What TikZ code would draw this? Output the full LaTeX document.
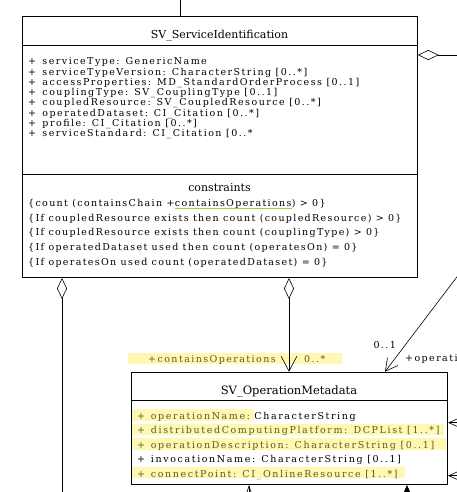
\documentclass[tikz,border=0pt]{standalone}
\usepackage{fontspec}
\setmainfont{DejaVu Serif}
\newfontfamily\umlattr[LetterSpace=15.5]{DejaVu Serif}
\newfontfamily\umlcons[LetterSpace=14]{DejaVu Serif}
\newfontfamily\umlop[LetterSpace=17]{DejaVu Serif}
\newfontfamily\umlrole[LetterSpace=15]{DejaVu Serif}
\newfontfamily\umlhead{DejaVu Serif}
\usetikzlibrary{positioning,arrows.meta,calc,backgrounds}

\definecolor{hlyellow}{HTML}{FFF8B4}
\definecolor{olivetext}{HTML}{5E5B1C}
\definecolor{spellgreen}{HTML}{9CD04A}

\begin{document}
\begin{tikzpicture}[x=1pt, y=-1pt,
  font=\umlattr\fontsize{9.5}{11}\selectfont,
  cls/.style={draw, line width=0.8pt, inner sep=0pt, anchor=north west},
  sep/.style={line width=0.8pt},
  ttl/.style={anchor=base, inner sep=0pt, font=\umlhead\fontsize{11}{13}\selectfont},
  attr/.style={anchor=base west, inner sep=0pt, text height=10pt, text depth=1pt},
  cons/.style={attr, font=\umlcons\fontsize{9.5}{11}\selectfont},
  oper/.style={attr, font=\umlop\fontsize{9.5}{11}\selectfont},
  hl/.style={fill=hlyellow, draw=none},
  assoc/.style={line width=0.6pt},
  diam/.style={assoc, {Diamond[open, length=21pt, width=10pt]}-},
  lbl/.style={anchor=base west, inner sep=0pt, text height=9pt, text depth=1.5pt,
    font=\umlrole\fontsize{9.5}{11}\selectfont}
]
\useasboundingbox (0,0) rectangle (457,492);
\clip (0,0) rectangle (457,492);

% ---- SV_ServiceIdentification ----
\node[cls, minimum width=395pt, minimum height=261.5pt] (sid) at (22,15.7) {};
\draw[sep] (sid.west |- 0,45) -- (sid.east |- 0,45);
\draw[sep] (sid.west |- 0,174) -- (sid.east |- 0,174);
\node[ttl] (sid-name) at (219.5,38.5) {SV\_ServiceIdentification};
\node[attr] (sa1) at (28,65)    {\makebox[14.3pt][l]{+}serviceType: GenericName};
\node[attr] (sa2) at (28,75.3)  {\makebox[14.3pt][l]{+}serviceTypeVersion: CharacterString [0..*]};
\node[attr] (sa3) at (28,85.5)  {\makebox[14.3pt][l]{+}accessProperties: MD\_StandardOrderProcess [0..1]};
\node[attr] (sa4) at (28,95.8)  {\makebox[14.3pt][l]{+}couplingType: SV\_CouplingType [0..1]};
\node[attr] (sa5) at (28,106)   {\makebox[14.3pt][l]{+}coupledResource: SV\_CoupledResource [0..*]};
\node[attr] (sa6) at (28,116.3) {\makebox[14.3pt][l]{+}operatedDataset: CI\_Citation [0..*]};
\node[attr] (sa7) at (28,126.5) {\makebox[14.3pt][l]{+}profile: CI\_Citation [0..*]};
\node[attr] (sa8) at (28,136.8) {\makebox[14.3pt][l]{+}serviceStandard: CI\_Citation [0..*};

% ---- constraints ----
\node[ttl] (sid-cons) at (219.5,191.7) {constraints};
\node[cons] (sc1a) at (28,206.7) {\{count (containsChain + };
\node[cons, base right=0pt of sc1a] (sc1b) {containsOperations};
\node[cons, base right=0pt of sc1b] (sc1c) {) > 0\}};
\draw[spellgreen, line width=1pt] ([yshift=-1.8pt]sc1b.base west) -- ([yshift=-1.8pt]sc1b.base east);
\node[cons] (sc2) at (28,221.3) {\{If coupledResource exists then count (coupledResource) > 0\}};
\node[cons] (sc3) at (28,235.9) {\{If coupledResource exists then count (couplingType) > 0\}};
\node[cons] (sc4) at (28,250.5) {\{If operatedDataset used then count (operatesOn) = 0\}};
\node[cons] (sc5) at (28,265.1) {\{If operatesOn used count (operatedDataset) = 0\}};

% ---- SV_OperationMetadata ----
\node[cls, minimum width=316.6pt, minimum height=112.6pt] (som) at (130.7,371.7) {};
\draw[sep] (som.west |- 0,400.7) -- (som.east |- 0,400.7);
\node[ttl, font=\umlhead\fontsize{11.5}{13}\selectfont] (som-name) at (289,394) {SV\_OperationMetadata};
\node[oper, olivetext] (om1) at (137,419.5) {\makebox[13.7pt][l]{+}operationName:\rule{4pt}{0pt}};
\node[oper, base right=0pt of om1] (om1t) {CharacterString};
\node[oper, olivetext] (om2) at (137,433.9) {\makebox[13.7pt][l]{+}distributedComputingPlatform: DCPList [1..*]};
\node[oper, olivetext] (om3) at (137,448.3) {\makebox[13.7pt][l]{+}operationDescription: CharacterString [0..1]};
\node[oper] (om4) at (137,462.7) {\makebox[13.7pt][l]{+}invocationName: CharacterString [0..1]};
\node[oper, olivetext] (om5) at (137,477.1) {\makebox[13.7pt][l]{+}connectPoint: CI\_OnlineResource [1..*]};

% ---- role labels ----
\node[lbl, olivetext] (lco) at (148,362) {+containsOperations};
\node[lbl, olivetext] (lcm) at (304,362) {0..*};
\node[lbl] (lom) at (373.3,348) {0..1};
\node[lbl] (lop) at (405,361.7) {+operati};

% ---- highlights ----
\begin{scope}[on background layer]
\fill[hl] (som.west |- om1.north) rectangle (om1.south east);
\fill[hl] (som.west |- om2.north) rectangle ([xshift=4pt]om2.south east);
\fill[hl] (som.west |- om3.north) rectangle ([xshift=12pt]om3.south east);
\fill[hl] (som.west |- om5.north) rectangle ([xshift=7pt]om5.south east);
\fill[hl] ([xshift=-20pt]lco.north west) rectangle ([xshift=16pt]lcm.south east);
\end{scope}

% ---- free ends ----
\coordinate (up) at (180,0);
\coordinate (right) at (457,55);
\coordinate (down) at (62,492);
\coordinate (coupled) at (472,257);
\coordinate (dcp) at (457,422.7);
\coordinate (online) at (457,475.7);
\coordinate (below1) at (249,500);
\coordinate (below2) at (407,500);

% ---- connectors ----
\draw[assoc] (up) -- (sid.north -| up);
\draw[diam] (sid.east |- right) -- (right);
\draw[diam] (sid.south -| down) -- (down);
\draw[assoc, {Diamond[open, length=21pt, width=10pt]}-{Straight Barb[length=15pt, width=16pt]}]
  (sid.south -| 289,0) -- (som.north -| 289,0);
\draw[assoc, -{Straight Barb[length=12pt, width=13pt]}] (coupled) -- (som.north -| 385,0);
\draw[assoc, -{Straight Barb[length=10pt, width=9pt]}] (dcp) -- (som.east |- dcp);
\draw[assoc, -{Straight Barb[length=10pt, width=9pt]}] (online) -- (som.east |- online);
\draw[assoc, -{Straight Barb[length=15pt, width=10pt]}] (below1) -- (som.south -| below1);
\draw[assoc, -{Triangle[length=9pt, width=8pt]}] (below2) -- (som.south -| below2);
\end{tikzpicture}
\end{document}
